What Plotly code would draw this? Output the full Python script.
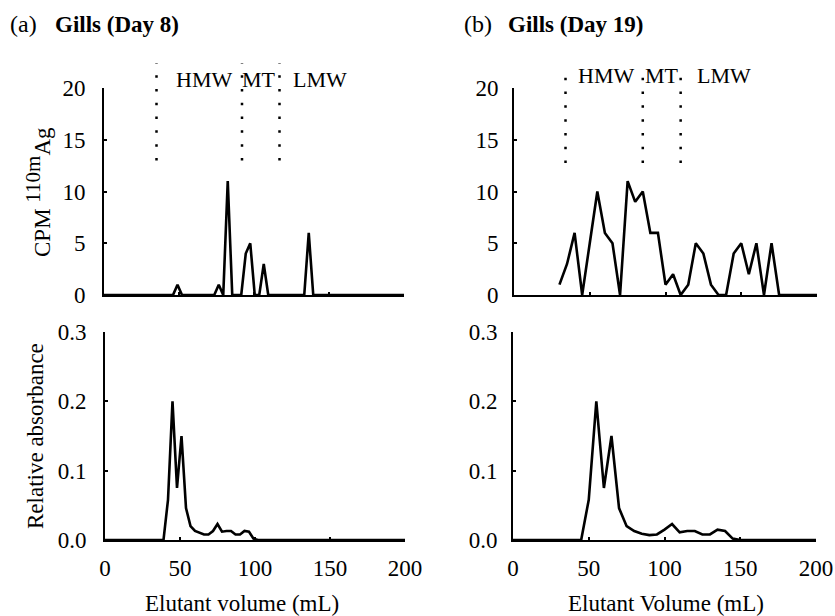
import plotly.graph_objects as go

# ---------------- data ----------------
# (a) Gills Day 8 — CPM 110mAg
x_cpm_d8 = [0, 46, 49, 52, 73.5, 76.5, 79.5, 82.5, 85.5, 91.5, 94.5, 97.5, 100.5,
            103.5, 106.5, 109.5, 133.5, 136.5, 139.5, 200]
y_cpm_d8 = [0, 0, 1, 0, 0, 1, 0, 11, 0, 0, 4, 5, 0,
            0, 3, 0, 0, 6, 0, 0]

# (a) Gills Day 8 — relative absorbance
x_abs_d8 = [0, 39, 42, 45, 48, 51, 54, 57, 60, 63, 66, 69, 72, 75, 78, 81, 84, 87,
            90, 93, 96, 99, 102, 200]
y_abs_d8 = [0, 0, 0.058, 0.2, 0.075, 0.15, 0.046, 0.02, 0.013, 0.01, 0.008, 0.008,
            0.013, 0.023, 0.012, 0.013, 0.013, 0.008, 0.008, 0.013, 0.012, 0.002, 0, 0]

# (b) Gills Day 19 — CPM 110mAg
x_cpm_d19 = [30, 35, 40, 45, 50, 55, 60, 65, 70, 75, 80, 85, 90, 95, 100, 105, 110,
             115, 120, 125, 130, 135, 140, 145, 150, 155, 160, 165, 170, 175, 200]
y_cpm_d19 = [1, 3, 6, 0, 5, 10, 6, 5, 0, 11, 9, 10, 6, 6, 1, 2, 0,
             1, 5, 4, 1, 0, 0, 4, 5, 2, 5, 0, 5, 0, 0]

# (b) Gills Day 19 — relative absorbance
x_abs_d19 = [0, 45, 50, 55, 60, 65, 70, 75, 80, 85, 90, 95, 100, 105, 110, 115, 120,
             125, 130, 135, 140, 145, 150, 200]
y_abs_d19 = [0, 0, 0.058, 0.2, 0.075, 0.15, 0.046, 0.02, 0.013, 0.009, 0.007, 0.008,
             0.015, 0.023, 0.011, 0.013, 0.013, 0.008, 0.008, 0.015, 0.013, 0.002, 0, 0]

# fraction boundaries (mL) and labels
bounds_d8 = [35, 92, 117]
bounds_d19 = [34, 85, 110]
frac_labels = ["HMW", "MT", "LMW"]
frac_pos_d8 = [66.5, 103, 144]
frac_pos_d19 = [60.5, 98, 138.5]

x_ticks = [0, 50, 100, 150, 200]
cpm_ticks = [0, 5, 10, 15, 20]
abs_ticks = [0.0, 0.1, 0.2, 0.3]
abs_ticktext = ["0.0", "0.1", "0.2", "0.3"]

# ---------------- figure ----------------
W, H = 835, 616
FONT = "Liberation Serif"
FS = 23
LINE = dict(color="black", width=2.6)

fig = go.Figure()
fig.add_trace(go.Scatter(x=x_cpm_d8, y=y_cpm_d8, mode="lines", line=LINE, xaxis="x", yaxis="y"))
fig.add_trace(go.Scatter(x=x_cpm_d19, y=y_cpm_d19, mode="lines", line=LINE, xaxis="x2", yaxis="y2"))
fig.add_trace(go.Scatter(x=x_abs_d8, y=y_abs_d8, mode="lines", line=LINE, xaxis="x3", yaxis="y3"))
fig.add_trace(go.Scatter(x=x_abs_d19, y=y_abs_d19, mode="lines", line=LINE, xaxis="x4", yaxis="y4"))


def px_x(p):
    return p / W


def px_y(p):
    return 1 - p / H


top_dom = [px_y(295), px_y(88)]
bot_dom = [px_y(540), px_y(332)]
left_dom = [px_x(104), px_x(404)]
right_dom = [px_x(514), px_x(817)]

common_x = dict(range=[0, 200], tickvals=x_ticks, showline=True, linecolor="black",
                linewidth=2, ticks="inside", ticklen=3, tickwidth=2, tickcolor="black",
                showgrid=False, zeroline=False, automargin=False,
                tickfont=dict(family=FONT, size=FS, color="black"))
common_y = dict(showline=True, linecolor="black", linewidth=2, ticks="inside",
                ticklen=3, tickwidth=2, tickcolor="black", showgrid=False,
                zeroline=False, automargin=False,
                tickfont=dict(family=FONT, size=FS, color="black"))

fig.update_layout(
    template="none",
    width=W, height=H, autosize=False,
    margin=dict(l=0, r=0, t=0, b=0, pad=0, autoexpand=False),
    paper_bgcolor="white", plot_bgcolor="white",
    showlegend=False, hovermode=False,
    font=dict(family=FONT, size=FS, color="black"),
    xaxis=dict(domain=left_dom, anchor="y", showticklabels=False, **common_x),
    yaxis=dict(domain=top_dom, anchor="x", range=[0, 20], tickvals=cpm_ticks,
               ticklabelstandoff=12, **common_y),
    xaxis2=dict(domain=right_dom, anchor="y2", showticklabels=False, **common_x),
    yaxis2=dict(domain=top_dom, anchor="x2", range=[0, 20], tickvals=cpm_ticks,
                ticklabelstandoff=9, **common_y),
    xaxis3=dict(domain=[px_x(105), px_x(405)], anchor="y3", ticklabelstandoff=6, **common_x),
    yaxis3=dict(domain=bot_dom, anchor="x3", range=[0, 0.3], tickvals=abs_ticks,
                ticktext=abs_ticktext, ticklabelstandoff=12, **common_y),
    xaxis4=dict(domain=[px_x(513), px_x(816)], anchor="y4", ticklabelstandoff=6, **common_x),
    yaxis4=dict(domain=bot_dom, anchor="x4", range=[0, 0.3], tickvals=abs_ticks,
                ticktext=abs_ticktext, ticklabelstandoff=9, **common_y),
)

# dotted fraction boundaries (in axis data units, drawn relative to axis domain)
dot_style = dict(color="black", width=2.5, dash="2.5px,11.3px")
for xv in bounds_d8:
    fig.add_shape(type="line", xref="x", yref="y domain", x0=xv, x1=xv,
                  y0=13.0 / 20, y1=22.4 / 20, line=dot_style)
for xv in bounds_d19:
    fig.add_shape(type="line", xref="x2", yref="y2 domain", x0=xv, x1=xv,
                  y0=12.75 / 20, y1=21.8 / 20, line=dot_style)

ann = []
for lab, xv in zip(frac_labels, frac_pos_d8):
    ann.append(dict(text=lab, x=xv, xref="x", y=px_y(79), yref="paper",
                    showarrow=False, xanchor="center", yanchor="middle",
                    font=dict(family=FONT, size=22, color="black")))
for lab, xv in zip(frac_labels, frac_pos_d19):
    ann.append(dict(text=lab, x=xv, xref="x2", y=px_y(76), yref="paper",
                    showarrow=False, xanchor="center", yanchor="middle",
                    font=dict(family=FONT, size=22, color="black")))

# panel titles
ann += [
    dict(text="(a)", x=px_x(8), y=px_y(24), xref="paper", yref="paper", showarrow=False,
         xanchor="left", yanchor="middle", font=dict(family=FONT, size=24)),
    dict(text="<b>Gills (Day 8)</b>", x=px_x(53), y=px_y(24), xref="paper", yref="paper",
         showarrow=False, xanchor="left", yanchor="middle", font=dict(family=FONT, size=23)),
    dict(text="(b)", x=px_x(462), y=px_y(24), xref="paper", yref="paper", showarrow=False,
         xanchor="left", yanchor="middle", font=dict(family=FONT, size=24)),
    dict(text="<b>Gills (Day 19)</b>", x=px_x(506), y=px_y(24), xref="paper", yref="paper",
         showarrow=False, xanchor="left", yanchor="middle", font=dict(family=FONT, size=23)),
]

# axis titles
ann += [
    dict(text="CPM <sup><span style='font-size:21px'>110m</span></sup>Ag",
         x=px_x(38), y=px_y(192), xref="paper",
         yref="paper", showarrow=False, textangle=-90, xanchor="center", yanchor="middle",
         font=dict(family=FONT, size=23)),
    dict(text="Relative absorbance", x=px_x(35), y=px_y(436), xref="paper", yref="paper",
         showarrow=False, textangle=-90, xanchor="center", yanchor="middle",
         font=dict(family=FONT, size=23)),
    dict(text="Elutant volume (mL)", x=px_x(242), y=px_y(603), xref="paper", yref="paper",
         showarrow=False, xanchor="center", yanchor="middle", font=dict(family=FONT, size=23)),
    dict(text="Elutant Volume (mL)", x=px_x(666), y=px_y(603), xref="paper", yref="paper",
         showarrow=False, xanchor="center", yanchor="middle", font=dict(family=FONT, size=23)),
]
fig.update_layout(annotations=ann)

fig.write_html("out.html", config={"responsive": False, "displayModeBar": False,
                                   "staticPlot": True},
               post_script="document.body.style.margin='0';document.body.style.overflow='hidden';")
